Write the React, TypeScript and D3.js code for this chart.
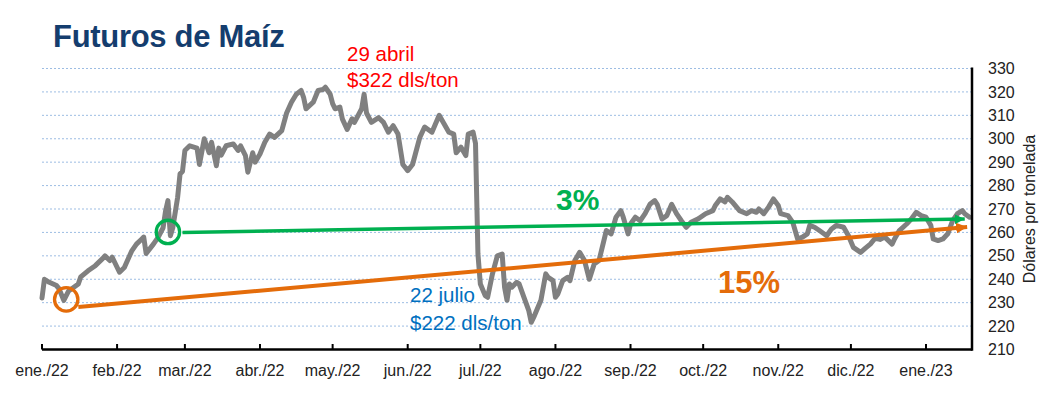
import React from "react"
import * as d3 from "d3"

// precio de futuros de maíz (dls/ton)
const fechas = [
  "2022-01-01", "2022-01-02", "2022-01-04", "2022-01-07", "2022-01-08", "2022-01-10", "2022-01-12",
  "2022-01-16", "2022-01-17", "2022-01-20", "2022-01-23", "2022-01-26", "2022-01-27", "2022-01-29",
  "2022-01-30", "2022-02-02", "2022-02-04", "2022-02-07", "2022-02-09", "2022-02-11", "2022-02-12",
  "2022-02-13", "2022-02-16", "2022-02-18", "2022-02-20", "2022-02-21", "2022-02-22", "2022-02-23",
  "2022-02-24", "2022-02-26", "2022-02-27", "2022-02-28", "2022-03-01", "2022-03-03", "2022-03-06",
  "2022-03-07", "2022-03-09", "2022-03-11", "2022-03-12", "2022-03-14", "2022-03-15", "2022-03-16",
  "2022-03-18", "2022-03-21", "2022-03-23", "2022-03-24", "2022-03-26", "2022-03-27", "2022-03-29",
  "2022-03-30", "2022-04-01", "2022-04-03", "2022-04-05", "2022-04-07", "2022-04-10", "2022-04-12",
  "2022-04-14", "2022-04-16", "2022-04-18", "2022-04-19", "2022-04-20", "2022-04-23", "2022-04-25",
  "2022-04-27", "2022-04-28", "2022-04-30", "2022-05-01", "2022-05-02", "2022-05-04", "2022-05-05",
  "2022-05-07", "2022-05-09", "2022-05-10", "2022-05-13", "2022-05-14", "2022-05-15", "2022-05-17",
  "2022-05-20", "2022-05-22", "2022-05-24", "2022-05-26", "2022-05-28", "2022-05-30", "2022-06-01",
  "2022-06-03", "2022-06-06", "2022-06-08", "2022-06-11", "2022-06-14", "2022-06-16", "2022-06-18",
  "2022-06-20", "2022-06-21", "2022-06-23", "2022-06-25", "2022-06-26", "2022-06-28", "2022-06-29",
  "2022-06-30", "2022-07-01", "2022-07-03", "2022-07-04", "2022-07-06", "2022-07-08", "2022-07-10",
  "2022-07-11", "2022-07-12", "2022-07-13", "2022-07-14", "2022-07-16", "2022-07-17", "2022-07-19",
  "2022-07-21", "2022-07-22", "2022-07-23", "2022-07-26", "2022-07-28", "2022-07-29", "2022-07-31",
  "2022-08-01", "2022-08-02", "2022-08-04", "2022-08-06", "2022-08-07", "2022-08-09", "2022-08-11",
  "2022-08-13", "2022-08-15", "2022-08-17", "2022-08-19", "2022-08-21", "2022-08-22", "2022-08-24",
  "2022-08-26", "2022-08-28", "2022-08-29", "2022-08-31", "2022-09-01", "2022-09-03", "2022-09-05",
  "2022-09-07", "2022-09-09", "2022-09-11", "2022-09-12", "2022-09-14", "2022-09-16", "2022-09-18",
  "2022-09-20", "2022-09-22", "2022-09-24", "2022-09-26", "2022-09-29", "2022-10-02", "2022-10-05",
  "2022-10-06", "2022-10-08", "2022-10-10", "2022-10-11", "2022-10-13", "2022-10-16", "2022-10-19",
  "2022-10-21", "2022-10-23", "2022-10-24", "2022-10-26", "2022-10-28", "2022-10-30", "2022-11-01",
  "2022-11-02", "2022-11-05", "2022-11-07", "2022-11-09", "2022-11-11", "2022-11-13", "2022-11-14",
  "2022-11-16", "2022-11-18", "2022-11-21", "2022-11-23", "2022-11-25", "2022-11-28", "2022-11-30",
  "2022-12-02", "2022-12-05", "2022-12-07", "2022-12-09", "2022-12-11", "2022-12-13", "2022-12-15",
  "2022-12-18", "2022-12-19", "2022-12-21", "2022-12-24", "2022-12-26", "2022-12-28", "2022-12-30",
  "2023-01-01", "2023-01-03", "2023-01-04", "2023-01-06", "2023-01-08", "2023-01-10", "2023-01-12",
  "2023-01-14", "2023-01-16", "2023-01-17", "2023-01-19",
]
const precios = [
  232, 240, 238.7, 237.3, 236, 231, 235,
  238, 241, 243.6, 245.8, 248.8, 250, 248,
  249.4, 243, 245, 252, 255, 257, 258,
  251, 255, 258, 262, 269, 273.6, 258.6,
  262, 275, 285, 286, 295, 297, 296,
  289, 300, 294, 298.5, 288.5, 296, 293,
  297, 297.8, 295, 297, 292.8, 285.7, 294,
  290, 293.5, 298.5, 302, 300.6, 303.5, 311,
  315.6, 319, 320.6, 317.7, 312.8, 315.6, 320.6,
  321, 322, 319, 315, 312.8, 313.5, 308.5,
  304, 308.5, 307, 312.8, 319, 311, 307,
  309, 307, 302.8, 305.6, 302, 289, 286.4,
  289, 300.6, 305, 302.8, 310, 306.4, 302.8,
  302, 294, 296.4, 292.8, 302, 302.8, 298,
  250.8, 238, 233, 232.3, 242.3, 250, 250.8,
  236.6, 231, 238, 236.6, 238.7, 238, 232.3,
  226.6, 221.6, 223.7, 231, 242.3, 240.8, 239.4,
  232.3, 233.7, 239.4, 240.8, 239.4, 248, 251.5,
  248, 240, 246.5, 248, 256.5, 260.8, 259.4,
  266.5, 269.3, 266.5, 259.4, 263.6, 266.5, 265,
  268, 272, 273.6, 272, 265.8, 267.2, 272,
  268, 265, 262.2, 264.3, 265.8, 268, 269.3,
  271.5, 274.3, 273, 275, 273, 269.3, 268,
  269.3, 268.6, 270, 268, 270.8, 274.3, 271.5,
  268, 267.2, 264.3, 257.2, 258, 259.4, 263,
  262.2, 260.8, 258.6, 261.5, 263, 262.2, 258.6,
  253.6, 251.5, 253.3, 255, 257.5, 257, 258,
  255, 257.2, 260.8, 263.6, 265.8, 268.6, 267.2,
  266.5, 263, 257.2, 256.5, 257.2, 259.4, 265,
  268, 269.3, 268, 266.5,
]

const inicioMeses = [
  "2022-01-01", "2022-02-01", "2022-03-01", "2022-04-01", "2022-05-01", "2022-06-01", "2022-07-01",
  "2022-08-01", "2022-09-01", "2022-10-01", "2022-11-01", "2022-12-01", "2023-01-01",
]
const meses = [
  "ene./22", "feb./22", "mar./22", "abr./22", "may./22", "jun./22", "jul./22",
  "ago./22", "sep./22", "oct./22", "nov./22", "dic./22", "ene./23",
]
const valoresEje = [210, 220, 230, 240, 250, 260, 270, 280, 290, 300, 310, 320, 330]

// flechas de tendencia
const verdeFechas = ["2022-02-28", "2023-01-17"]
const verdeValores = [260.0, 265.7]
const naranjaFechas = ["2022-01-16", "2023-01-18"]
const naranjaValores = [228.1, 262.3]
// círculos de inicio
const circuloFechas = ["2022-01-11", "2022-02-22"]
const circuloValores = [231.4, 260.2]

const parse = d3.timeParse("%Y-%m-%d")

const GRIS = "#808080"
const VERDE = "#00B050"
const NARANJA = "#E46C0A"
const fuente = "'Liberation Sans', Arial, sans-serif"

export default function App() {
  const width = 1041
  const height = 394

  const x = d3.scaleTime()
    .domain([parse("2022-01-01")!, parse("2023-01-20")!])
    .range([42, 972])
  const y = d3.scaleLinear().domain([210, 330]).range([349.5, 68.5])

  const serie: [Date, number][] = fechas.map((f, i) => [parse(f)!, precios[i]])
  const linea = d3.line<[Date, number]>()
    .x(d => x(d[0]))
    .y(d => y(d[1]))

  const verde: [Date, number][] = verdeFechas.map((f, i) => [parse(f)!, verdeValores[i]])
  const naranja: [Date, number][] = naranjaFechas.map((f, i) => [parse(f)!, naranjaValores[i]])

  return (
    <div style={{ position: "absolute", left: 0, top: 0 }}>
      <svg width={width} height={height} style={{ display: "block", background: "#fff" }}>
        <defs>
          <marker id="flechaVerde" viewBox="0 0 10 10" refX="10" refY="5"
            markerWidth="10" markerHeight="10" markerUnits="userSpaceOnUse" orient="auto">
            <path d="M0,0 L10,5 L0,10 Z" fill={VERDE} />
          </marker>
          <marker id="flechaNaranja" viewBox="0 0 10 10" refX="10" refY="5"
            markerWidth="11" markerHeight="11" markerUnits="userSpaceOnUse" orient="auto">
            <path d="M0,0 L10,5 L0,10 Z" fill={NARANJA} />
          </marker>
        </defs>

        {/* título */}
        <text x={53} y={47} fontFamily={fuente} fontWeight="bold" fontSize={31}
          fill="#143D6E" letterSpacing={-0.3}>Futuros de Maíz</text>

        {/* líneas de cuadrícula */}
        {valoresEje.filter(v => v > 210).map(v => (
          <line key={v} x1={42} x2={972} y1={y(v)} y2={y(v)}
            stroke="#9DBDE3" strokeWidth={1} strokeDasharray="2 2" />
        ))}

        {/* serie */}
        <path d={linea(serie) ?? ""} fill="none" stroke={GRIS} strokeWidth={5}
          strokeLinejoin="round" strokeLinecap="round" />

        {/* tendencias */}
        <path d={linea(naranja) ?? ""} fill="none" stroke={NARANJA} strokeWidth={4}
          markerEnd="url(#flechaNaranja)" />
        <path d={linea(verde) ?? ""} fill="none" stroke={VERDE} strokeWidth={3.5}
          markerEnd="url(#flechaVerde)" />
        <circle cx={x(parse(circuloFechas[0])!)} cy={y(circuloValores[0])} r={11.7}
          fill="none" stroke={NARANJA} strokeWidth={3.3} />
        <circle cx={x(parse(circuloFechas[1])!)} cy={y(circuloValores[1])} r={11.7}
          fill="none" stroke={VERDE} strokeWidth={3.3} />

        {/* eje x */}
        <line x1={42} x2={972} y1={349.5} y2={349.5} stroke="#000" strokeWidth={2.5} />
        {inicioMeses.map((m, i) => {
          const px = x(parse(m)!)
          return (
            <g key={m}>
              <line x1={px} x2={px} y1={349.5} y2={344} stroke="#000" strokeWidth={2} />
              <text x={px} y={376} textAnchor="middle" fontFamily={fuente} fontSize={16}
                fill="#222">{meses[i]}</text>
            </g>
          )
        })}

        {/* eje y derecho */}
        <line x1={972} x2={972} y1={67.5} y2={350.7} stroke="#000" strokeWidth={2.5} />
        {valoresEje.map(v => (
          <text key={v} x={988} y={y(v)} dy="0.35em" fontFamily={fuente} fontSize={16}
            fill="#222">{v}</text>
        ))}
        <text transform="translate(1035,209) rotate(-90)" textAnchor="middle"
          fontFamily={fuente} fontSize={16} fill="#222">Dólares por tonelada</text>

        {/* anotaciones */}
        <text x={347} y={61} fontFamily={fuente} fontSize={20.5} fill="#FF0000">29 abril</text>
        <text x={347} y={87} fontFamily={fuente} fontSize={20.5} fill="#FF0000">$322 dls/ton</text>
        <text x={410} y={302} fontFamily={fuente} fontSize={20.5} fill="#0070C0">22 julio</text>
        <text x={410} y={330} fontFamily={fuente} fontSize={20.5} fill="#0070C0">$222 dls/ton</text>
        <text x={556} y={210} fontFamily={fuente} fontWeight="bold" fontSize={30}
          fill={VERDE}>3%</text>
        <text x={718} y={293} fontFamily={fuente} fontWeight="bold" fontSize={31}
          fill={NARANJA}>15%</text>
      </svg>
    </div>
  )
}
